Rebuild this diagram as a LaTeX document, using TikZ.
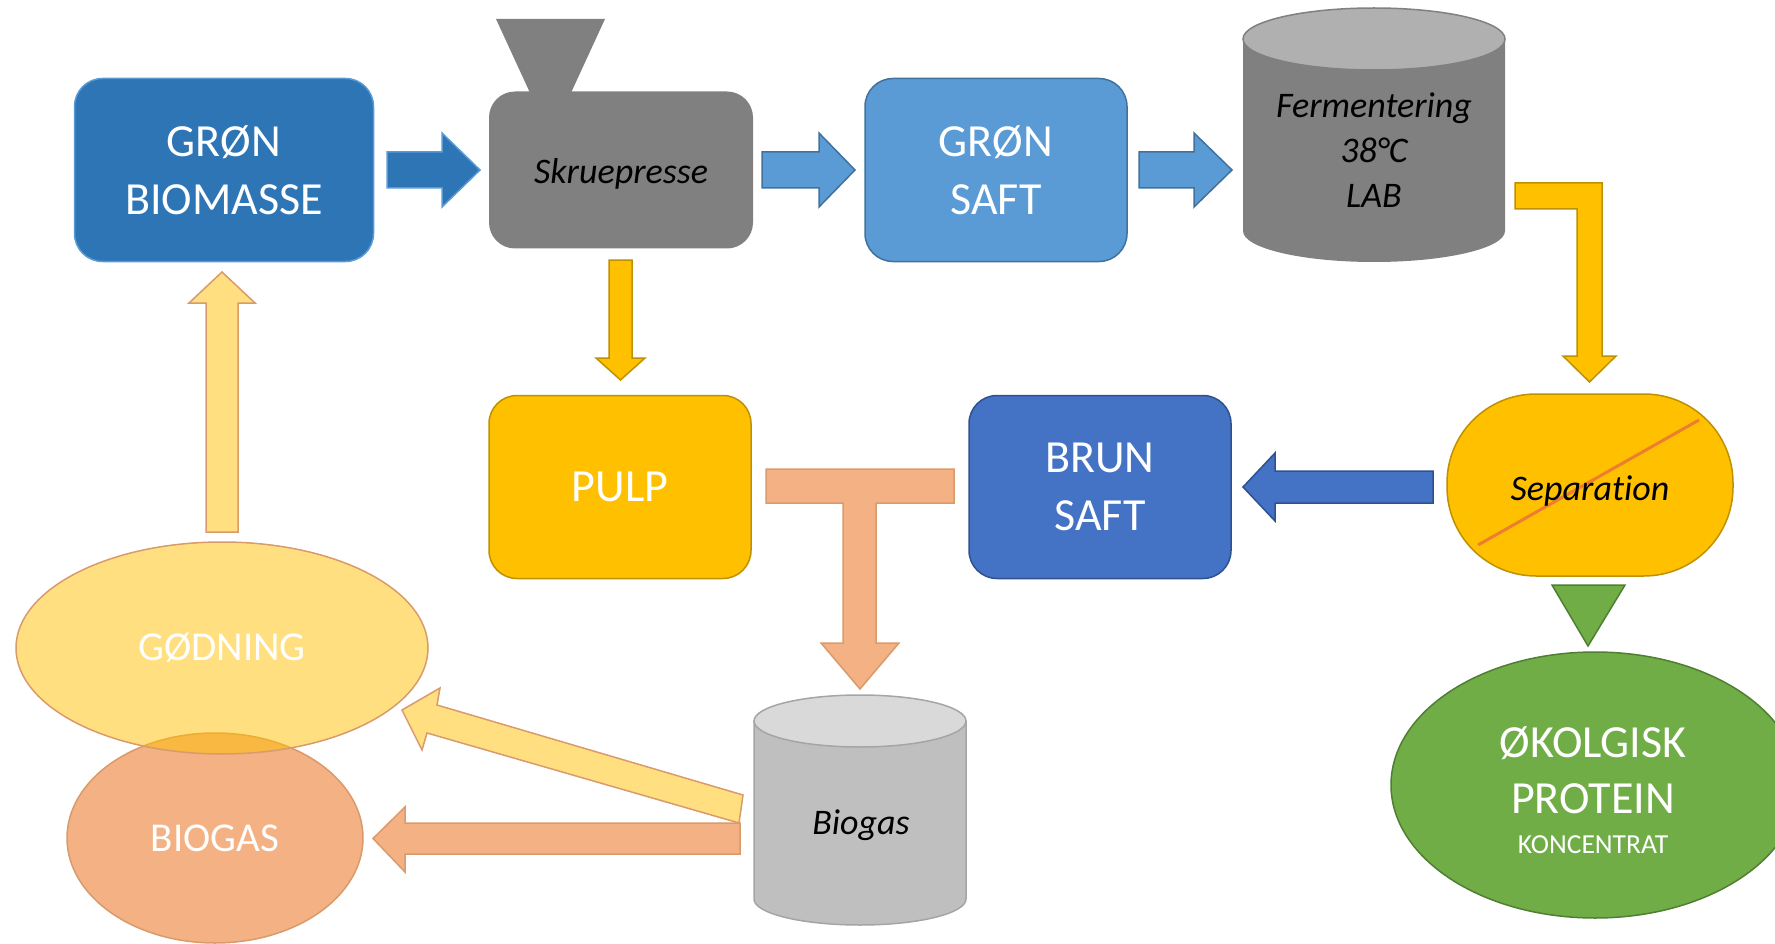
\documentclass[tikz,border=0pt]{standalone}
\usepackage{fontspec}
\setmainfont{Carlito}[Ligatures={NoCommon,NoContextual,NoRequired}]
\usetikzlibrary{shapes.geometric}

\definecolor{darkblue}{HTML}{2E75B6}
\definecolor{midblue}{HTML}{5B9BD5}
\definecolor{midblueline}{HTML}{41719C}
\definecolor{brunblue}{HTML}{4472C4}
\definecolor{brunblueline}{HTML}{2F528F}
\definecolor{pressgray}{HTML}{808080}
\definecolor{lidgray}{HTML}{B0B0B0}
\definecolor{gold}{HTML}{FFC000}
\definecolor{goldline}{HTML}{BF9000}
\definecolor{paleyellow}{HTML}{FFDF80}
\definecolor{salmon}{HTML}{F4B183}
\definecolor{salmonline}{HTML}{D99A6C}
\definecolor{leaf}{HTML}{70AD47}
\definecolor{leafline}{HTML}{507E32}
\definecolor{slash}{HTML}{ED7D31}
\definecolor{tankgray}{HTML}{BFBFBF}
\definecolor{tanklid}{HTML}{D9D9D9}
\definecolor{tankline}{HTML}{A5A5A5}

\begin{document}
\begin{tikzpicture}[x=1pt, y=-1pt,
    box/.style={rectangle, rounded corners=28pt, minimum width=262pt, minimum height=183pt,
        line width=1.5pt, text=white, align=center, font=\fontsize{46}{58}\selectfont},
    tank label/.style={align=center, font=\fontsize{36}{45}\selectfont\itshape},
    blob/.style={ellipse, line width=1.5pt, text=white, font=\fontsize{41}{50}\selectfont},
    flow/.style={line width=1.5pt, line join=miter}]

    \useasboundingbox (0,0) rectangle (1775,944);
    \clip (0,0) rectangle (1775,944);

    % Groen biomasse
    \node[box, minimum width=299pt, fill=darkblue, draw=midblue] (biomasse) at (224,170) {GRØN\\BIOMASSE};

    % Skruepresse with funnel
    \fill[pressgray] (496,19) -- (605,19) -- (570,95) -- (531,95) -- cycle;
    \node[box, minimum width=264pt, minimum height=157pt, rounded corners=26pt, fill=pressgray] (presse) at (621,170) {};
    \node[tank label] (pressetext) at (621,174) {Skruepresse};

    % Groen saft
    \node[box, fill=midblue, draw=midblueline] (groensaft) at (996,170) {GRØN\\SAFT};

    % Fermentering tank
    \fill[pressgray] (1243,39) -- (1243,231) arc[start angle=180, end angle=360, x radius=131pt, y radius=31pt] -- (1505,39) -- cycle;
    \filldraw[fill=lidgray, draw=pressgray, line width=1.5pt] (1374,39) ellipse (131pt and 31pt);
    \node[tank label] (ferment) at (1374,150) {Fermentering\\38°C\\LAB};

    % Pulp and brun saft
    \node[box, fill=gold, draw=goldline] (pulp) at (620,487) {PULP};
    \node[box, fill=brunblue, draw=brunblueline] (brunsaft) at (1100,487) {BRUN\\SAFT};

    % Separation
    \node[rectangle, rounded corners=89pt, minimum width=286pt, minimum height=182pt,
        fill=gold, draw=goldline, line width=1.5pt] (separation) at (1590,485) {};
    \draw[slash, line width=3pt] (1478,545) -- (1699,420);
    \node[tank label] (septext) at (1590,491) {Separation};

    % Protein koncentrat
    \filldraw[fill=leaf, draw=leafline, line width=1.5pt] (1552,585) -- (1625,585) -- (1588,646) -- cycle;
    \node[ellipse, minimum width=408pt, minimum height=266pt, fill=leaf, draw=leafline, line width=1.5pt] (protein) at (1595,785) {};
    \node[text=white, align=center, font=\fontsize{46}{56}\selectfont] (proteintext) at (1593,790)
        {ØKOLGISK\\PROTEIN\\[-16pt]{\fontsize{27.5}{33}\selectfont KONCENTRAT}};

    % Biogas tank
    \filldraw[fill=tankgray, draw=tankline, line width=1.5pt] (754,721) -- (754,899) arc[start angle=180, end angle=360, x radius=106pt, y radius=26pt] -- (966,721) -- cycle;
    \filldraw[fill=tanklid, draw=tankline, line width=1.5pt] (860,721) ellipse (106pt and 26pt);
    \node[tank label] (tank) at (861,825) {Biogas};

    % Biogas and goedning
    \node[blob, minimum width=296pt, minimum height=210pt, fill=salmon, draw=salmonline] (biogas) at (215,838) {BIOGAS};
    \node[blob, minimum width=412pt, minimum height=212pt, fill=gold, fill opacity=0.5, text opacity=1,
        draw=salmonline] (goedning) at (222,648) {GØDNING};

    % Arrows along the top row
    \filldraw[flow, fill=darkblue, draw=midblue] (387,152) -- (442,152) -- (442,133) -- (480,170) -- (442,207) -- (442,188) -- (387,188) -- cycle;
    \filldraw[flow, fill=midblue, draw=midblueline] (762,152) -- (819,152) -- (819,133) -- (855,170) -- (819,207) -- (819,188) -- (762,188) -- cycle;
    \filldraw[flow, fill=midblue, draw=midblueline] (1139,152) -- (1194,152) -- (1194,133) -- (1232,170) -- (1194,207) -- (1194,188) -- (1139,188) -- cycle;

    % Skruepresse to pulp
    \filldraw[flow, fill=gold, draw=goldline] (609,260) -- (632,260) -- (632,358) -- (645,358) -- (620.5,380) -- (596,358) -- (609,358) -- cycle;

    % Fermentering to separation
    \filldraw[flow, fill=gold, draw=goldline] (1515,183) -- (1602,183) -- (1602,356) -- (1616,356) -- (1589.5,382) -- (1563,356) -- (1577,356) -- (1577,209) -- (1515,209) -- cycle;

    % Separation to brun saft
    \filldraw[flow, fill=brunblue, draw=brunblueline] (1433,471) -- (1275,471) -- (1275,453) -- (1243,487) -- (1275,521) -- (1275,503) -- (1433,503) -- cycle;

    % Pulp and brun saft to biogas tank
    \filldraw[flow, fill=salmon, draw=salmonline] (766,469) -- (954,469) -- (954,503) -- (876,503) -- (876,643) -- (899,643) -- (860,689) -- (821,643) -- (843,643) -- (843,503) -- (766,503) -- cycle;

    % Biogas tank to biogas and goedning
    \filldraw[flow, fill=salmon, draw=salmonline] (740,823) -- (405,823) -- (405,807) -- (373,838.5) -- (405,872) -- (405,854) -- (740,854) -- cycle;
    \filldraw[flow, fill=paleyellow, draw=salmonline] (743,795) -- (437,705) -- (440,688) -- (402,710) -- (422,750) -- (427,733) -- (739,823) -- cycle;

    % Goedning back to biomasse
    \filldraw[flow, fill=paleyellow, draw=salmonline] (206,532) -- (206,303) -- (189,303) -- (222,272) -- (255,303) -- (238,303) -- (238,532) -- cycle;

\end{tikzpicture}
\end{document}
